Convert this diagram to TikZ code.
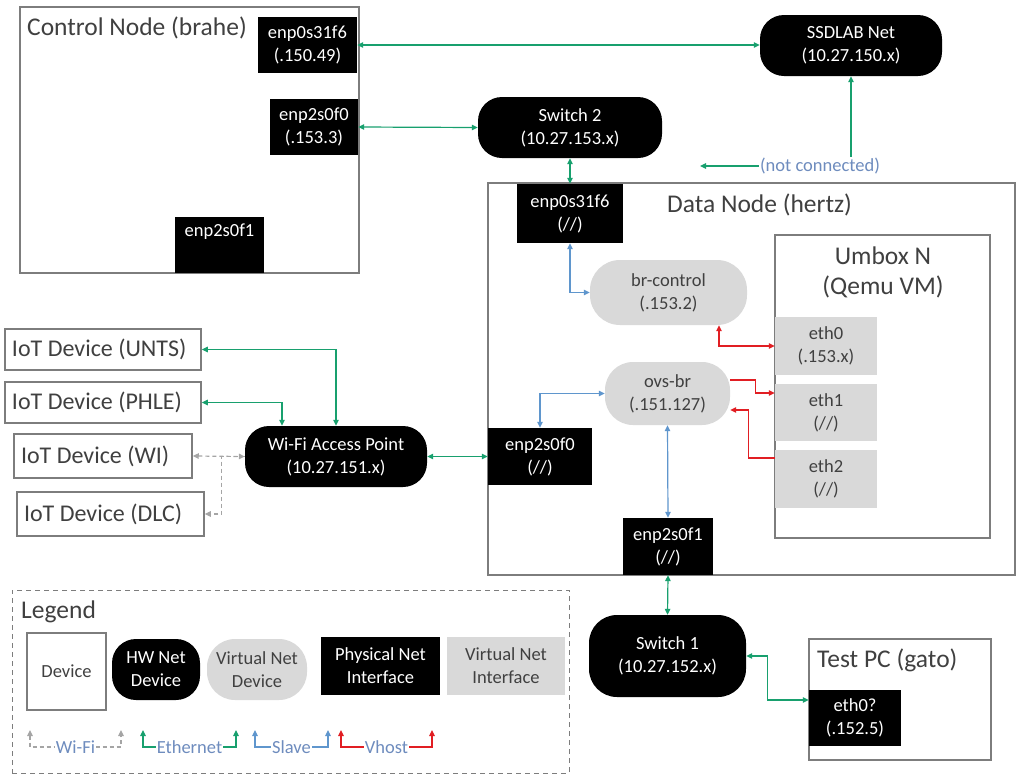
\documentclass[tikz,border=0pt]{standalone}
\usepackage{fontspec}
\setmainfont{Carlito}
\usetikzlibrary{arrows.meta}

\definecolor{ethgreen}{RGB}{24,160,110}
\definecolor{slaveblue}{RGB}{95,150,205}
\definecolor{vhostred}{RGB}{225,30,35}
\definecolor{wifigray}{RGB}{165,165,165}
\definecolor{vgray}{RGB}{217,217,217}
\definecolor{devgray}{RGB}{125,125,125}
\definecolor{dtext}{RGB}{64,64,64}
\definecolor{labelcol}{RGB}{110,140,190}

\newcommand\lblfont{\fontsize{18.5pt}{23pt}\selectfont}
\newcommand\ttlfont{\fontsize{25.5pt}{30pt}\selectfont}
\newcommand\iotfont{\fontsize{24pt}{28pt}\selectfont}

\begin{document}
\begin{tikzpicture}[x=1pt,y=-1pt,
  >={Triangle[length=6pt,width=5.5pt]},
  devbox/.style={draw=devgray, line width=1.5pt, fill=white, inner sep=0pt},
  iot/.style={devbox, font=\iotfont, text=dtext, align=flush left, inner xsep=7pt},
  hwnet/.style={fill=black, text=white, font=\lblfont, align=center, rounded corners=24pt, inner sep=0pt},
  vnet/.style={fill=vgray, text=dtext, font=\lblfont, align=center, rounded corners=28pt, inner sep=0pt},
  phys/.style={fill=black, text=white, font=\lblfont, align=center, inner sep=0pt},
  vif/.style={fill=vgray, text=dtext, font=\lblfont, align=center, inner sep=0pt},
  ttl/.style={font=\ttlfont, text=dtext, inner sep=0pt},
  clabel/.style={font=\lblfont, text=labelcol, fill=white, inner sep=1pt},
  link/.style={line width=1.2pt},
  ethl/.style={link, draw=ethgreen},
  slavel/.style={link, draw=slaveblue},
  vhostl/.style={link, draw=vhostred},
  wifil/.style={link, draw=wifigray, dash pattern=on 4pt off 3pt},
]
\useasboundingbox (0,0) rectangle (1017,777);

% ---------- Control node ----------
\node[devbox, minimum width=339pt, minimum height=266pt] (ctl) at (189.5,140) {};
\node[ttl, anchor=west] (ctlt) at (27,28) {Control Node (brahe)};
\node[phys, minimum width=99pt, minimum height=56pt] (cE0) at (307.5,45) {enp0s31f6\\(.150.49)};
\node[phys, minimum width=88pt, minimum height=56pt] (cF0) at (314,127) {enp2s0f0\\(.153.3)};
\node[phys, minimum width=89pt, minimum height=56pt] (cF1) at (219.5,245) {enp2s0f1\\\strut};

% ---------- Hardware network devices ----------
\node[hwnet, minimum width=182pt, minimum height=61pt] (ssd) at (851,45.5) {SSDLAB Net\\(10.27.150.x)};
\node[hwnet, minimum width=184pt, minimum height=61pt] (sw2) at (570,127.5) {Switch 2\\(10.27.153.x)};
\node[hwnet, minimum width=182pt, minimum height=61pt] (ap) at (336,456.5) {Wi-Fi Access Point\\(10.27.151.x)};
\node[hwnet, minimum width=157pt, minimum height=82pt, rounded corners=28pt] (sw1) at (667.5,656) {Switch 1\\(10.27.152.x)};

% ---------- Data node ----------
\node[devbox, minimum width=527pt, minimum height=392pt] (dn) at (751.5,379) {};
\node[ttl, anchor=west] (dnt) at (667,205) {Data Node (hertz)};
\node[phys, minimum width=106pt, minimum height=59pt] (dE0) at (570,213.5) {enp0s31f6\\(//)};
\node[vnet, minimum width=157pt, minimum height=65pt, rounded corners=30pt] (brc) at (668.5,292.5) {br-control\\(.153.2)};
\node[vnet, minimum width=125pt, minimum height=63pt] (ovs) at (667.5,393.5) {ovs-br\\(.151.127)};
\node[phys, minimum width=104pt, minimum height=57pt] (dF0) at (540,456.5) {enp2s0f0\\(//)};
\node[phys, minimum width=90pt, minimum height=57pt] (dF1) at (668,546.5) {enp2s0f1\\(//)};

% ---------- Umbox VM ----------
\node[devbox, minimum width=215pt, minimum height=303pt] (um) at (882.5,386.5) {};
\node[ttl, align=center] (umt) at (883,272) {Umbox N\\(Qemu VM)};
\node[vif, minimum width=102pt, minimum height=58pt] (eth0) at (826,346) {eth0\\(.153.x)};
\node[vif, minimum width=102pt, minimum height=57pt] (eth1) at (826,412.5) {eth1\\(//)};
\node[vif, minimum width=102pt, minimum height=58pt] (eth2) at (826,479) {eth2\\(//)};

% ---------- Test PC ----------
\node[devbox, minimum width=182pt, minimum height=121pt] (pc) at (900,699.5) {};
\node[ttl, anchor=west] (pct) at (817,660) {Test PC (gato)};
\node[phys, minimum width=92pt, minimum height=56pt] (pce) at (855,718) {eth0?\\(.152.5)};

% ---------- IoT devices ----------
\node[iot, text width=182pt, minimum height=41pt] (unts) at (103,349.5) {\mbox{IoT Device (UNTS)}};
\node[iot, text width=182pt, minimum height=41pt] (phle) at (103,402.5) {\mbox{IoT Device (PHLE)}};
\node[iot, text width=164pt, minimum height=44pt] (wi) at (103,456) {\mbox{IoT Device (WI)}};
\node[iot, text width=173pt, minimum height=44pt] (dlc) at (110.5,514) {\mbox{IoT Device (DLC)}};

% ---------- Ethernet links ----------
\draw[ethl, <->] (cE0.east) -- (cE0.east -| ssd.west);
\draw[ethl, <->] (cF0.east) -- (sw2.west);
\draw[ethl, <->] (sw2.south) -- (dE0.north);
\coordinate (ncend) at (700,166);
\draw[ethl, <->] (ncend) -| (ssd.south);
\node[clabel] (nc) at (820,166) {(not connected)};
\draw[ethl, <->] (ap.east) -- (dF0.west);
\draw[ethl, <->] (dF1.south) -- (sw1.north);
\draw[ethl, <->] (sw1.east) -- ++(21,0) |- ([yshift=18pt]pce.west);
\draw[ethl, <->] (unts.east) -| (ap.north);
\draw[ethl, <->] (phle.east) -| ([xshift=-54pt]ap.north);

% ---------- Wi-Fi links ----------
\draw[wifil, <->] (wi.east) -- (ap.west);
\draw[wifil, ->] (ap.west) -- ++(-23,0) |- (dlc.east);

% ---------- Slave links ----------
\draw[slavel, <->] (dE0.south) |- (brc.west);
\draw[slavel, <->] (dF0.north) |- (ovs.west);
\draw[slavel, <->] (ovs.south) -- (dF1.north);

% ---------- Vhost links ----------
\draw[vhostl, <->] ([xshift=50.5pt]brc.south) |- (eth0.west);
\draw[vhostl, ->] ([yshift=13.5pt]ovs.east) -- ++(25,0) |- ([yshift=19.5pt]eth1.west);
\draw[vhostl, ->] ([yshift=21pt]eth2.west) -- ++(-26,0) |- ([yshift=-16.5pt]ovs.east);

% ---------- Legend ----------
\node[draw=devgray, line width=1pt, dash pattern=on 5pt off 4pt, minimum width=557pt, minimum height=183pt, inner sep=0pt] (leg) at (290.5,681.5) {};
\node[ttl, anchor=west] (legt) at (21,612) {Legend};
\node[devbox, font=\lblfont, text=dtext, minimum width=79pt, minimum height=77pt] (ldev) at (66.5,671.5) {Device};
\node[hwnet, minimum width=88pt, minimum height=61pt] (lhw) at (156,669.5) {HW Net\\Device};
\node[vnet, minimum width=100pt, minimum height=61pt] (lvnd) at (257,669.5) {Virtual Net\\Device};
\node[phys, minimum width=119pt, minimum height=58pt] (lpni) at (380.5,666) {Physical Net\\Interface};
\node[vif, minimum width=118pt, minimum height=58pt] (lvni) at (506,666) {Virtual Net\\Interface};

\coordinate (lwa) at (30,730);  \coordinate (lwb) at (121,730);
\coordinate (lea) at (143,730); \coordinate (leb) at (236,730);
\coordinate (lsa) at (255,730); \coordinate (lsb) at (328,730);
\coordinate (lva) at (341,730); \coordinate (lvb) at (432,730);
\draw[wifil, <->] (lwa) -- ++(0,17) -| (lwb);
\draw[ethl, <->] (lea) -- ++(0,17) -| (leb);
\draw[slavel, <->] (lsa) -- ++(0,17) -| (lsb);
\draw[vhostl, <->] (lva) -- ++(0,17) -| (lvb);
\node[clabel] (lwt) at (75.5,747) {Wi-Fi};
\node[clabel] (let) at (189.5,747) {Ethernet};
\node[clabel] (lst) at (291.5,747) {Slave};
\node[clabel] (lvt) at (386.5,747) {Vhost};
\end{tikzpicture}
\end{document}
